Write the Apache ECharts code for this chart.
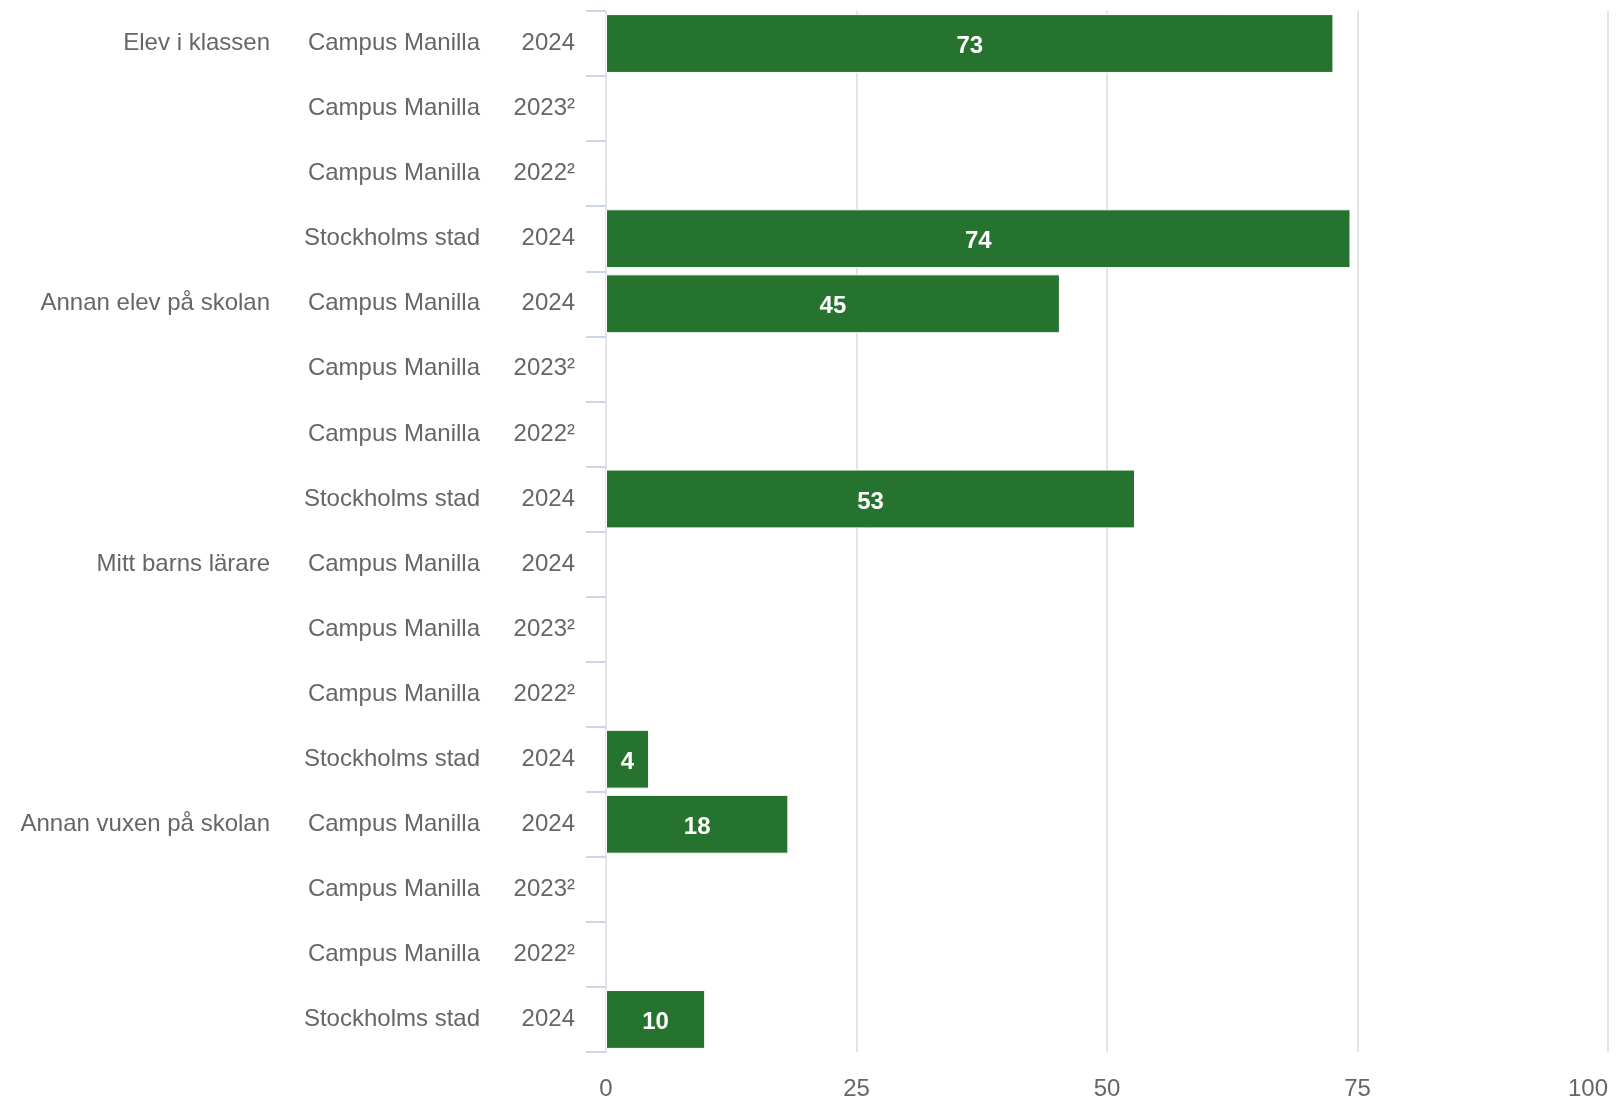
<!DOCTYPE html>
<html>
<head>
<meta charset="utf-8">
<script src="https://cdn.jsdelivr.net/npm/echarts@6/dist/echarts.min.js"></script>
<style>
html,body{margin:0;padding:0;background:#fff;}
#chart{width:1617px;height:1101px;}
</style>
</head>
<body>
<div id="chart"></div>
<script>
// ---- data ----
const groups = ['Elev i klassen', 'Annan elev på skolan', 'Mitt barns lärare', 'Annan vuxen på skolan'];
const schools = ['Campus Manilla', 'Campus Manilla', 'Campus Manilla', 'Stockholms stad'];
const years = ['2024', '2023²', '2022²', '2024'];
const elevIKlassen = [72.6, null, null, 74.3];
const annanElevPaSkolan = [45.3, null, null, 52.8];
const mittBarnsLarare = [null, null, null, 4.3];
const annanVuxenPaSkolan = [18.2, null, null, 9.9];
const xTicks = [0, 25, 50, 75, 100];

// ---- build rows ----
const groupValues = [elevIKlassen, annanElevPaSkolan, mittBarnsLarare, annanVuxenPaSkolan];
const rowKeys = [], rowGroup = [], rowSchool = [], rowYear = [], rowValue = [];
groups.forEach((g, gi) => {
  schools.forEach((s, si) => {
    rowKeys.push(g + ' / ' + s + ' / ' + years[si] + ' #' + si);
    rowGroup.push(si === 0 ? g : '');
    rowSchool.push(s);
    rowYear.push(years[si]);
    rowValue.push(groupValues[gi][si]);
  });
});

const FONT = '"Liberation Sans", Arial, Helvetica, sans-serif';
const TXT = '#666666';

function catAxis(labels, margin, main) {
  return {
    type: 'category',
    position: 'left',
    gridIndex: 0,
    inverse: true,
    data: rowKeys,
    axisLine: { show: false },
    axisTick: main ? { show: true, length: 20, lineStyle: { color: '#ccd6eb', width: 2 } } : { show: false },
    splitLine: { show: false },
    axisLabel: {
      show: true,
      interval: 0,
      margin: margin,
      align: 'right',
      padding: [4, 0, 0, 0],
      fontFamily: FONT,
      fontSize: 24,
      color: TXT,
      formatter: (v, i) => labels[i]
    }
  };
}

const chart = echarts.init(document.getElementById('chart'), null, { renderer: 'canvas' });
chart.setOption({
  animation: false,
  backgroundColor: '#ffffff',
  grid: { left: 606, right: 9, top: 11, bottom: 46, containLabel: false },
  xAxis: {
    type: 'value',
    min: xTicks[0],
    max: xTicks[xTicks.length - 1],
    interval: 25,
    axisLine: { show: false },
    axisTick: { show: false },
    splitLine: { show: true, lineStyle: { color: '#e3e3e3', width: 2 } },
    axisLabel: {
      margin: 25,
      fontFamily: FONT,
      fontSize: 24,
      color: TXT,
      alignMaxLabel: 'right'
    }
  },
  yAxis: [
    catAxis(rowYear, 31, true),
    catAxis(rowSchool, 126, false),
    catAxis(rowGroup, 336, false)
  ],
  series: [{
    type: 'bar',
    xAxisIndex: 0,
    yAxisIndex: 0,
    data: rowValue,
    barCategoryGap: '9.6%',
    itemStyle: { color: '#26732f', borderColor: '#ffffff', borderWidth: 1 },
    label: {
      show: true,
      position: 'inside',
      offset: [0, 3],
      color: '#ffffff',
      fontFamily: FONT,
      fontSize: 24,
      fontWeight: 'bold',
      formatter: p => Math.round(p.value)
    }
  }]
});
</script>
</body>
</html>
